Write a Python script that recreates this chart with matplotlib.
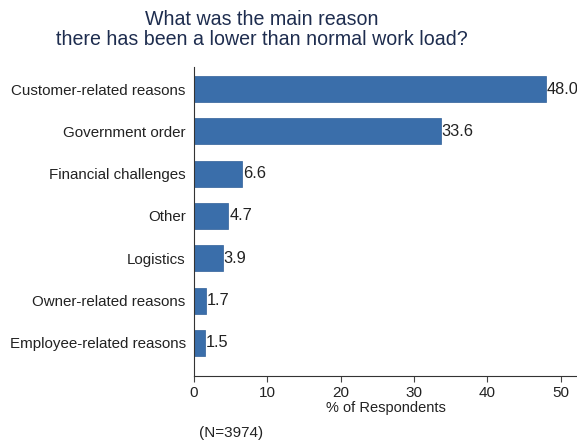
import matplotlib
matplotlib.use("Agg")
import matplotlib.pyplot as plt

categories = ["Customer-related reasons", "Government order", "Financial challenges",
              "Other", "Logistics", "Owner-related reasons", "Employee-related reasons"]
values = [48.0, 33.6, 6.6, 4.7, 3.9, 1.7, 1.5]
xticks = [0, 10, 20, 30, 40, 50]

plt.rcParams['font.family'] = ['Liberation Sans', 'DejaVu Sans']

W, H = 577, 443
fig = plt.figure(figsize=(W/100, H/100), dpi=100)
fig.patch.set_facecolor('white')
ax = fig.add_axes([194/W, 1-376/H, 1-194/W, (376-67)/H])

ypos = list(range(len(categories)))
ax.barh(ypos, values, height=0.61, color='#3a6eaa', edgecolor='#2f5f98', linewidth=0.5)
for y, v in zip(ypos, values):
    ax.text(v + 0.1, y, f"{v:.1f}", va='center', ha='left', fontsize=11.8, color='#222222')

ax.set_yticks(ypos)
ax.set_yticklabels(categories, fontsize=10.9, color='#222222')
ax.set_ylim(6.78, -0.52)
ax.set_xlim(0, 52.2)
ax.set_xticks(xticks)
ax.set_xticklabels([str(t) for t in xticks], fontsize=11, color='#222222')
ax.tick_params(axis='y', length=0, pad=6)
ax.tick_params(axis='x', length=4, color='#444444', pad=3)
for s in ['top', 'right']:
    ax.spines[s].set_visible(False)
ax.spines['left'].set_color('#333333')
ax.spines['bottom'].set_color('#333333')
ax.set_xlabel("% of Respondents", fontsize=10.5, color='#222222', labelpad=1)

fig.text(261.5/W, 1-29.5/H, "What was the main reason\nthere has been a lower than normal work load?",
         ha='center', va='center', fontsize=14.1, color='#1e2d4f', linespacing=1.1)
fig.text(199/W, 1-433/H, "(N=3974)", ha='left', va='center', fontsize=11, color='#222222')

fig.savefig("out.png", dpi=100)
